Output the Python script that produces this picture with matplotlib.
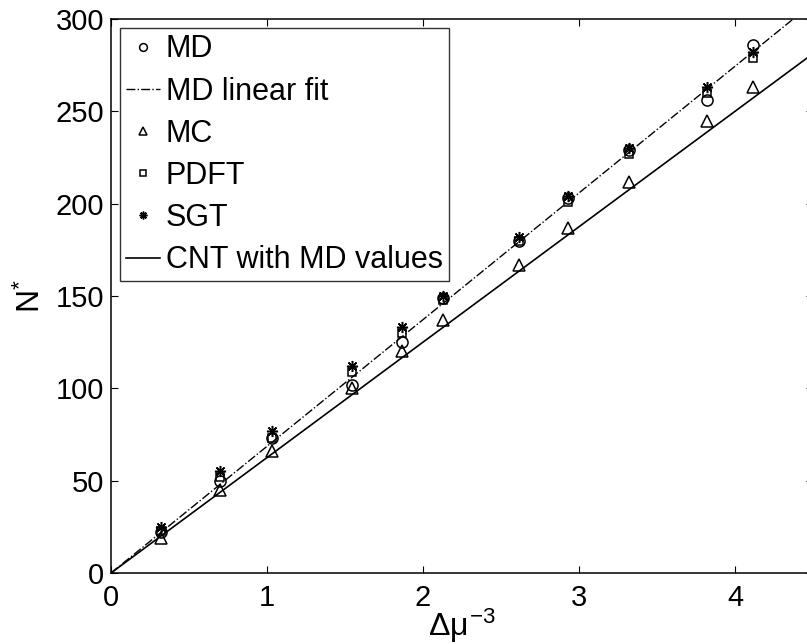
import numpy as np
import matplotlib.pyplot as plt

plt.rcParams['font.family'] = ['Liberation Sans', 'DejaVu Sans']
plt.rcParams['mathtext.fontset'] = 'custom'
plt.rcParams['mathtext.rm'] = 'Liberation Sans'
plt.rcParams['mathtext.it'] = 'Liberation Sans'

x = [0.32, 0.70, 1.03, 1.545, 1.865, 2.13, 2.615, 2.93, 3.32, 3.82, 4.115]
md = [22, 50, 73, 102, 125, 149, 180, 203, 229, 256, 286]
mc = [19, 45, 66, 100, 120, 137, 167, 187, 212, 245, 263]
pdft = [23, 52, 73, 109, 130, 148, 180, 201, 227, 260, 279]
sgt = [25, 55, 77, 112, 133, 150, 182, 204, 230, 263, 282]

fit_slope = 68.6
cnt_slope = 62.5

fig = plt.figure(figsize=(8.07, 6.44), dpi=100)
ax = fig.add_axes([111 / 807, 71 / 644, 702 / 807, 554 / 644])

xl = np.array([0, 4.5])
ax.plot(x, md, 'o', mfc='none', mec='k', ms=8, mew=1.1, label='MD')
ax.plot(xl, fit_slope * xl, '-.', color='k', lw=1, label='MD linear fit')
ax.plot(x, mc, '^', mfc='none', mec='k', ms=9, mew=1.1, label='MC')
ax.plot(x, pdft, 's', mfc='none', mec='k', ms=6, mew=1.1, label='PDFT')
ax.plot(x, sgt, marker=(8, 2, 0), ls='none', color='k', ms=8, mew=1.1, label='SGT')
ax.plot(xl, cnt_slope * xl, '-', color='k', lw=1.2, label='CNT with MD values')

ax.set_xlim(0, 4.5)
ax.set_ylim(0, 300)
ax.set_xticks([0, 1, 2, 3, 4])
ax.set_yticks(range(0, 301, 50))
ax.tick_params(direction='in', length=5, width=0.8, labelsize=21,
               top=True, right=True)
ax.tick_params(axis='x', pad=8)
ax.tick_params(axis='y', pad=5)
for s in ax.spines.values():
    s.set_linewidth(1.1)

ax.set_xlabel(r'$\Delta\mu^{-3}$', fontsize=23, labelpad=-4)
ax.set_ylabel(r'N$^{*}$', fontsize=23, labelpad=6)

leg = ax.legend(loc='upper left', fontsize=22, handlelength=1.1,
                handletextpad=0.2, borderaxespad=0.3, labelspacing=0.4,
                borderpad=0.2, frameon=True, fancybox=False,
                edgecolor='k', markerscale=0.7)
leg.get_frame().set_linewidth(1)

fig.savefig('out.png', dpi=100)
